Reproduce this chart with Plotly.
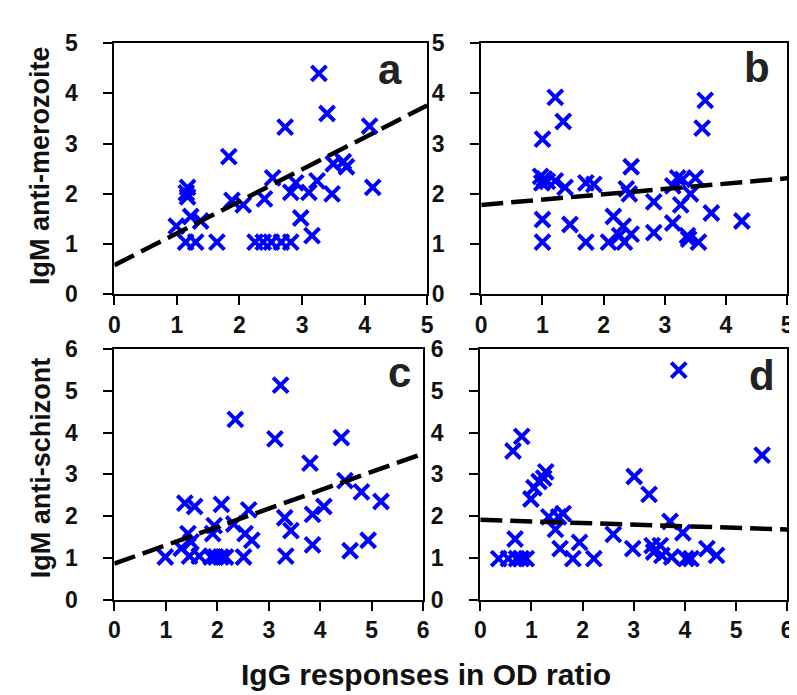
import plotly.graph_objects as go

# ---------- data ----------
a_x = [3.27, 3.40, 2.73, 4.08, 1.83, 1.17, 1.15, 1.17, 0.99, 1.22, 1.38, 1.14, 1.30, 1.64,
       2.25, 2.38, 2.51, 2.67, 2.82, 3.16, 2.98, 1.88, 2.06, 2.40, 2.53, 2.82, 2.90, 3.11,
       3.24, 3.48, 3.50, 3.66, 3.71, 4.13]
a_y = [4.40, 3.60, 3.33, 3.35, 2.74, 2.13, 2.02, 1.94, 1.36, 1.55, 1.46, 1.04, 1.04, 1.04,
       1.04, 1.04, 1.04, 1.04, 1.04, 1.17, 1.52, 1.87, 1.78, 1.90, 2.32, 2.03, 2.22, 2.03,
       2.26, 2.00, 2.60, 2.64, 2.54, 2.13]

b_x = [1.21, 1.34, 1.00, 3.66, 3.61, 2.45, 0.97, 1.03, 1.08, 0.99, 1.21, 1.37, 1.71, 1.84,
       2.37, 2.42, 2.82, 3.13, 3.21, 3.29, 3.50, 3.26, 3.42, 1.00, 1.00, 1.45, 1.71, 2.08,
       2.16, 2.32, 2.34, 2.45, 2.26, 2.82, 3.13, 3.37, 3.39, 3.55, 3.76, 4.26]
b_y = [3.92, 3.44, 3.09, 3.86, 3.31, 2.54, 2.35, 2.30, 2.25, 2.22, 2.26, 2.13, 2.22, 2.19,
       2.10, 2.00, 1.84, 2.16, 2.32, 2.29, 2.32, 1.78, 2.00, 1.49, 1.04, 1.39, 1.04, 1.04,
       1.55, 1.36, 1.04, 1.20, 1.17, 1.23, 1.42, 1.17, 1.10, 1.04, 1.62, 1.46]

c_x = [3.23, 2.35, 3.12, 4.41, 3.80, 4.48, 4.80, 5.18, 4.07, 3.85, 1.37, 1.56, 2.08, 2.61,
       3.31, 3.43, 2.32, 1.94, 1.91, 1.43, 2.54, 2.67, 1.30, 1.49, 3.85, 4.93, 4.58, 0.99,
       1.46, 1.65, 1.88, 1.97, 2.07, 2.16, 2.51, 3.33]
c_y = [5.14, 4.32, 3.85, 3.88, 3.27, 2.85, 2.58, 2.35, 2.23, 2.04, 2.31, 2.23, 2.28, 2.15,
       1.96, 1.65, 1.81, 1.77, 1.58, 1.58, 1.58, 1.42, 1.23, 1.38, 1.31, 1.42, 1.17, 1.02,
       1.04, 1.04, 1.02, 1.02, 1.02, 1.02, 1.02, 1.04]

d_x = [3.88, 5.51, 0.81, 0.64, 1.28, 1.15, 1.05, 1.24, 0.99, 3.01, 3.30, 1.34, 1.62, 1.53,
       1.47, 3.71, 3.96, 2.60, 0.68, 1.56, 1.94, 1.81, 2.22, 2.98, 3.36, 3.52, 3.39, 3.55,
       4.02, 4.12, 4.43, 4.62, 0.36, 0.55, 0.71, 0.80, 0.90, 3.74]
d_y = [5.50, 3.46, 3.91, 3.56, 3.06, 2.83, 2.68, 2.91, 2.41, 2.95, 2.52, 1.98, 2.06, 1.98,
       1.68, 1.87, 1.60, 1.56, 1.45, 1.22, 1.37, 0.98, 0.98, 1.22, 1.29, 1.29, 1.14, 1.06,
       0.98, 0.98, 1.22, 1.06, 0.98, 0.98, 0.98, 0.98, 0.98, 1.02]

# regression lines (endpoints)
a_fit_x = [0, 5]
a_fit_y = [0.58, 3.76]
b_fit_x = [0, 5]
b_fit_y = [1.78, 2.31]
c_fit_x = [0, 6]
c_fit_y = [0.86, 3.50]
d_fit_x = [0, 6]
d_fit_y = [1.91, 1.68]

panel_labels = ["a", "b", "c", "d"]
y_title_top = "IgM anti-merozoite"
y_title_bottom = "IgM anti-schizont"
x_title = "IgG responses in OD ratio"

# ---------- figure ----------
W, H = 797, 695
BLUE = "#0000FF"
FONT = "Liberation Sans, Arial, sans-serif"

fig = go.Figure()

panels = [
    (a_x, a_y, a_fit_x, a_fit_y, "x", "y"),
    (b_x, b_y, b_fit_x, b_fit_y, "x2", "y2"),
    (c_x, c_y, c_fit_x, c_fit_y, "x3", "y3"),
    (d_x, d_y, d_fit_x, d_fit_y, "x4", "y4"),
]
for px, py, fx, fy, xa, ya in panels:
    fig.add_trace(go.Scatter(
        x=px, y=py, mode="markers", xaxis=xa, yaxis=ya, showlegend=False,
        marker=dict(symbol="x-thin", size=15, color=BLUE,
                    line=dict(color=BLUE, width=4)),
        cliponaxis=False,
    ))
    fig.add_trace(go.Scatter(
        x=fx, y=fy, mode="lines", xaxis=xa, yaxis=ya, showlegend=False,
        line=dict(color="black", width=4.5, dash="22px,8px"),
    ))

def px2x(p):
    return p / W

def px2y(p):
    return 1 - p / H

tickfont = dict(family=FONT, size=23, color="#111", weight="bold")

def xaxis(domain, rng, anchor):
    return dict(domain=domain, range=rng, anchor=anchor, showgrid=False, zeroline=False,
                showline=True, linecolor="black", linewidth=2, mirror=True,
                ticks="outside", ticklen=9, tickwidth=1.5, tickcolor="black",
                dtick=1, tickfont=tickfont, ticklabelstandoff=0,
                ticklabeloverflow="allow")

def yaxis(domain, rng, anchor):
    return dict(domain=domain, range=rng, anchor=anchor, showgrid=False, zeroline=False,
                showline=True, linecolor="black", linewidth=2, mirror=True,
                ticks="outside", ticklen=9, tickwidth=1.5, tickcolor="black",
                dtick=1, tickfont=tickfont, ticklabelstandoff=21,
                ticklabeloverflow="allow")

top_dom = [px2y(284), px2y(23)]
bot_dom = [px2y(601), px2y(341)]

fig.update_layout(
    width=W, height=H, margin=dict(l=0, r=0, t=0, b=0),
    paper_bgcolor="white", plot_bgcolor="white",
    xaxis=xaxis([px2x(102), px2x(420)], [0, 5], "y"),
    yaxis=yaxis(top_dom, [0, 5], "x"),
    xaxis2=xaxis([px2x(475), px2x(786)], [0, 5], "y2"),
    yaxis2=yaxis(top_dom, [0, 5], "x2"),
    xaxis3=xaxis([px2x(102), px2x(416)], [0, 6], "y3"),
    yaxis3=yaxis(bot_dom, [0, 6], "x3"),
    xaxis4=xaxis([px2x(474), px2x(786)], [0, 6], "y4"),
    yaxis4=yaxis(bot_dom, [0, 6], "x4"),
)

letter_pos = [("x", "y", 0.925, 0.793), ("x2", "y2", 0.95, 0.80),
              ("x3", "y3", 0.968, 0.804), ("x4", "y4", 0.968, 0.792)]
for lab, (xa, ya, ax, ay) in zip(panel_labels, letter_pos):
    fig.add_annotation(text=lab, xref=xa + " domain", yref=ya + " domain",
                       x=ax, y=ay, xanchor="right", yanchor="bottom", showarrow=False,
                       font=dict(family=FONT, size=42, color="#222", weight="bold"))

titlefont = dict(family=FONT, size=27, color="#111", weight="bold")
fig.add_annotation(text=y_title_top, xref="paper", yref="paper", x=px2x(27), y=px2y(150),
                   textangle=-90, showarrow=False, font=titlefont,
                   xanchor="center", yanchor="middle")
fig.add_annotation(text=y_title_bottom, xref="paper", yref="paper", x=px2x(27), y=px2y(465),
                   textangle=-90, showarrow=False, font=titlefont,
                   xanchor="center", yanchor="middle")
fig.add_annotation(text=x_title, xref="paper", yref="paper", x=px2x(419), y=px2y(679),
                   showarrow=False, font=dict(family=FONT, size=30, color="#111", weight="bold"),
                   xanchor="center", yanchor="middle")

fig.write_html("out.html")
